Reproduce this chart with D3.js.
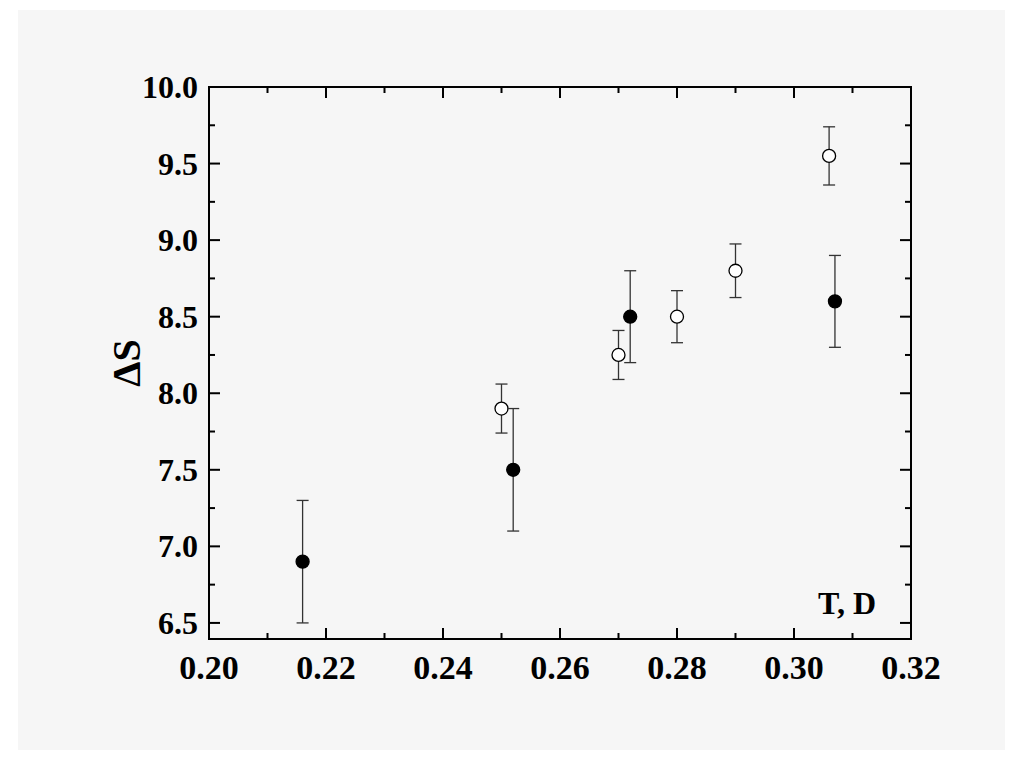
<!DOCTYPE html>
<html><head><meta charset="utf-8">
<script src="https://cdn.jsdelivr.net/npm/d3@7"></script>
<style>body{margin:0;background:#fff}</style>
</head><body>
<script>
// filled circles
var filledT = [0.216, 0.252, 0.272, 0.307];
var filledS = [6.9, 7.5, 8.5, 8.6];
var filledErr = [0.4, 0.4, 0.3, 0.3];
// open circles
var openT = [0.250, 0.270, 0.280, 0.290, 0.306];
var openS = [7.9, 8.25, 8.5, 8.8, 9.55];
var openErr = [0.16, 0.16, 0.17, 0.175, 0.19];
var xTicks = [0.20, 0.22, 0.24, 0.26, 0.28, 0.30, 0.32];
var yTicks = [6.5, 7.0, 7.5, 8.0, 8.5, 9.0, 9.5, 10.0];

var W = 1024, H = 766;
var svg = d3.select("body").append("svg").attr("width", W).attr("height", H);
svg.append("rect").attr("x", 18).attr("y", 10).attr("width", 987).attr("height", 740).attr("fill", "#f6f6f6");

var x = d3.scaleLinear().domain([0.20, 0.32]).range([209, 911]);
var y = d3.scaleLinear().domain([6.395, 10.0]).range([639, 87]);

var font = "'Liberation Serif', 'Times New Roman', serif";

function minor(arr, step) {
  var out = [];
  for (var i = 0; i < arr.length - 1; i++) out.push(arr[i] + step);
  return out;
}
var xMinor = minor(xTicks, 0.01), yMinor = minor(yTicks, 0.25);

var g = svg.append("g");
// frame
g.append("rect").attr("x", x(0.20)).attr("y", y(10)).attr("width", x(0.32) - x(0.20)).attr("height", y(6.395) - y(10))
  .attr("fill", "none").attr("stroke", "#000").attr("stroke-width", 2);

function ticks(vals, len, isX) {
  vals.forEach(function(v) {
    if (isX) {
      g.append("line").attr("x1", x(v)).attr("x2", x(v)).attr("y1", y(6.395)).attr("y2", y(6.395) - len).attr("stroke", "#000").attr("stroke-width", 2);
      g.append("line").attr("x1", x(v)).attr("x2", x(v)).attr("y1", y(10)).attr("y2", y(10) + len).attr("stroke", "#000").attr("stroke-width", 2);
    } else {
      g.append("line").attr("y1", y(v)).attr("y2", y(v)).attr("x1", x(0.20)).attr("x2", x(0.20) + len).attr("stroke", "#000").attr("stroke-width", 2);
      g.append("line").attr("y1", y(v)).attr("y2", y(v)).attr("x1", x(0.32)).attr("x2", x(0.32) - len).attr("stroke", "#000").attr("stroke-width", 2);
    }
  });
}
ticks(xTicks, 11, true); ticks(xMinor, 6, true);
ticks(yTicks, 11, false); ticks(yMinor, 6, false);

g.selectAll(".xl").data(xTicks).enter().append("text")
  .attr("x", function(d) { return x(d); }).attr("y", 679)
  .attr("text-anchor", "middle").attr("font-family", font).attr("font-weight", "bold").attr("font-size", 34)
  .text(function(d) { return d.toFixed(2); });
g.selectAll(".yl").data(yTicks).enter().append("text")
  .attr("x", 198).attr("y", function(d) { return y(d) + 11; })
  .attr("text-anchor", "end").attr("font-family", font).attr("font-weight", "bold").attr("font-size", 32)
  .text(function(d) { return d.toFixed(1); });

svg.append("text").attr("transform", "translate(140,363) rotate(-90)")
  .attr("text-anchor", "middle").attr("font-family", font).attr("font-weight", "bold").attr("font-size", 40)
  .text("ΔS");
svg.append("text").attr("x", 876).attr("y", 614).attr("text-anchor", "end")
  .attr("font-family", font).attr("font-weight", "bold").attr("font-size", 32).text("T, D");

function series(T, S, E, fill) {
  var data = T.map(function(t, i) { return {t: t, s: S[i], e: E[i]}; });
  var eg = g.append("g").attr("stroke", "#333").attr("stroke-width", 1.3);
  data.forEach(function(d) {
    var cx = x(d.t);
    eg.append("line").attr("x1", cx).attr("x2", cx).attr("y1", y(d.s - d.e)).attr("y2", y(d.s + d.e));
    [d.s - d.e, d.s + d.e].forEach(function(v) {
      eg.append("line").attr("x1", cx - 6).attr("x2", cx + 6).attr("y1", y(v)).attr("y2", y(v));
    });
  });
  g.selectAll(null).data(data).enter().append("circle")
    .attr("cx", function(d) { return x(d.t); }).attr("cy", function(d) { return y(d.s); })
    .attr("r", 6.5).attr("fill", fill).attr("stroke", "#000").attr("stroke-width", 1.3);
}
series(openT, openS, openErr, "#fff");
series(filledT, filledS, filledErr, "#000");
</script>
</body></html>
